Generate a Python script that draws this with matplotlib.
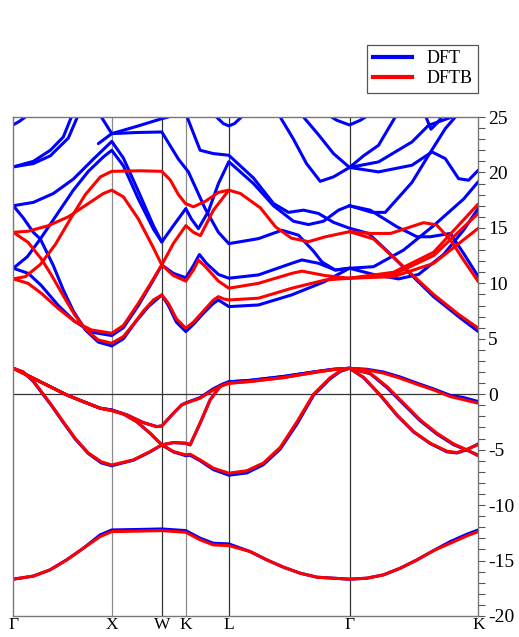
import matplotlib
matplotlib.use("Agg")
import matplotlib.pyplot as plt

# High-symmetry points along the path (path length, arbitrary units)
kpt_labels = ["Γ", "X", "W", "K", "L", "Γ", "K"]
kpt_pos = [0.0, 98.4, 148.4, 172.4, 215.4, 336.0, 464.7]

# ---- DFT bands: lists of (k, E in eV) ----
dft_s = [(0, -16.68), (20, -16.4), (36.7, -15.84), (53.3, -14.94), (70, -13.89), (86.7, -12.69),
         (98.4, -12.24), (123, -12.2), (148.4, -12.15), (172.4, -12.3), (186.7, -12.98),
         (200, -13.44), (215.4, -13.5), (236.7, -14.19), (253.4, -14.94), (270, -15.6),
         (286.7, -16.14), (303.4, -16.5), (336, -16.68), (353.4, -16.59), (370, -16.29),
         (386.7, -15.69), (403.4, -14.94), (420, -14.1), (436.7, -13.29), (453.4, -12.62),
         (464.7, -12.24)]
dft_v1 = [(0, 2.34), (20, 1.44), (36.7, 0.69), (53.3, -0.06), (70, -0.67), (86.7, -1.26),
          (98.4, -1.42), (113.3, -1.85), (130, -2.56), (143.3, -2.92), (148.4, -2.86),
          (160, -1.72), (168.3, -0.96), (172.4, -0.78), (186.7, -0.3), (200, 0.5), (210, 0.95),
          (215.4, 1.12), (236.7, 1.25), (270, 1.6), (303.4, 2.05), (320, 2.25), (336, 2.34),
          (353.4, 2.25), (370, 2.0), (386.7, 1.55), (403.4, 1.0), (420, 0.48), (436.7, -0.1),
          (450, -0.3), (464.7, -0.66)]
dft_v2 = [(0, 2.34), (20, 1.44), (36.7, 0.69), (53.3, -0.06), (70, -0.67), (86.7, -1.26),
          (98.4, -1.42), (110, -1.78), (123.3, -2.47), (136.7, -3.52), (148.4, -4.57),
          (160, -5.2), (172.4, -5.55), (176.7, -5.5), (186.7, -6.0), (200, -6.8), (215.4, -7.3),
          (233.4, -7.1), (250, -6.35), (266.7, -4.95), (283.4, -2.7), (300, -0.1), (316.7, 1.4),
          (326.7, 2.05), (336, 2.34), (356.7, 1.85), (373.4, 0.6), (390, -0.9), (406.7, -2.4),
          (423.4, -3.6), (440, -4.55), (453.4, -5.05), (464.7, -5.5)]
dft_v3 = [(0, 2.34), (10, 2.0), (20, 1.15), (30, -0.05), (38, -1.0), (50, -2.55), (62, -4.05),
          (75, -5.35), (88, -6.2), (98.4, -6.45), (120, -5.95), (136.7, -5.2), (148.4, -4.57),
          (160, -4.36), (172.4, -4.42), (176.7, -4.57), (186.7, -2.61), (196.7, -0.51),
          (206.7, 0.75), (215.4, 1.12), (236.7, 1.25), (270, 1.6), (303.4, 2.05), (320, 2.25),
          (336, 2.34), (350, 1.5), (366.7, -0.1), (383.4, -1.9), (400, -3.4), (416.7, -4.45),
          (433.4, -5.2), (443.4, -5.3), (453.4, -5.0), (464.7, -4.48)]

dft_c = [
    # lowest conduction bands
    [(0, 11.36), (15, 10.9), (28, 9.8), (45, 8.0), (61, 6.6), (78, 5.6), (98.4, 5.29),
     (110, 6.0), (125, 8.0), (140, 10.3), (148.4, 11.66), (160, 10.9), (172.4, 10.5),
     (180, 11.6), (186, 12.6), (193, 11.8), (205, 10.8), (215.4, 10.46), (245, 10.76),
     (278.4, 11.81), (288.4, 12.11), (305, 11.81), (321.7, 11.2), (336, 11.36)],
    [(0, 17.0), (10, 15.9), (20, 14.6), (27, 14.0), (40, 11.6), (50, 9.4), (60, 7.5),
     (72, 5.8), (85, 4.7), (98.4, 4.36), (110, 5.0), (122, 6.5), (135, 7.9), (148.4, 8.95),
     (155, 8.0), (163, 6.5), (172.4, 5.65), (180, 6.3), (190, 7.3), (200, 8.2), (205, 8.5),
     (215.4, 7.9), (245, 8.05), (278, 8.95), (311, 10.15), (336, 11.36)],
    # upper bands
    [(0, 11.36), (14, 12.4), (27, 14.0), (45, 16.4), (60, 18.4), (75, 20.1), (90, 21.4),
     (98.4, 22.0), (110, 20.6), (125, 17.6), (140, 14.9), (148.4, 13.73), (160, 15.2),
     (172.4, 16.74), (178, 15.8), (185, 14.93), (195, 16.5), (205, 19.0), (215.4, 20.97),
     (240, 19.0), (260, 17.0), (280, 15.6), (295, 15.3), (310, 15.6), (325, 16.6), (336, 17.0)],
    [(0, 17.0), (20, 17.3), (40, 18.1), (60, 19.4), (80, 21.2), (98.4, 22.8), (110, 21.3),
     (125, 18.3), (140, 15.2), (148.4, 13.73)],
    [(88, 25.0), (98.4, 23.5), (123, 23.6), (148.4, 23.65), (165, 21.2), (175, 20.05),
     (191.7, 16.74), (205, 14.6), (215.4, 13.58), (245, 14.03), (268.4, 14.79), (285, 14.34),
     (300, 12.9), (308.4, 11.93), (321.7, 11.2), (336, 11.36)],
    [(85, 22.6), (98.4, 23.5), (125, 24.2), (148.4, 24.85), (155, 25.0)],
    [(173.7, 25.0), (186.7, 22.0), (200, 21.7), (215.4, 21.55), (240, 19.5), (260, 17.2),
     (275, 16.4), (290, 16.6), (305, 16.3), (320, 15.5), (336, 14.97), (355, 14.5),
     (375, 12.8), (395, 11.0), (420, 8.8), (445, 7.0), (464.7, 5.65)],
    [(0, 20.5), (20, 21.0), (37, 22.0), (50, 23.2), (58, 25.0)],
    [(0, 20.5), (20, 20.8), (37, 21.5), (55, 23.1), (64, 25.0)],
    [(0, 24.3), (6, 24.6), (12, 25.0)],
    [(203, 25.0), (210, 24.4), (215.4, 24.2), (221, 24.4), (228, 25.0)],
    [(318, 25.0), (323.4, 24.7), (336, 24.28), (346.7, 24.7), (352, 25.0)],
    [(266.7, 25.0), (280, 23.0), (293, 20.8), (306.7, 19.2), (320, 19.6), (336, 20.45),
     (365, 20.05), (398.4, 20.65), (418.4, 21.85), (431.7, 21.25), (445, 19.44), (455, 19.3),
     (464.7, 20.2)],
    [(290, 25.0), (305, 23.4), (320, 21.7), (336, 20.45), (350, 21.5), (365, 22.45),
     (381.7, 25.0)],
    [(336, 20.45), (365, 20.95), (398.4, 22.75), (415, 24.25), (438.4, 25.0)],
    [(412.4, 25.0), (417.4, 23.9), (424, 24.5), (428, 25.0)],
    [(336, 17.0), (358.4, 16.4), (371.7, 16.4), (398.4, 19.1), (415, 21.55), (431.7, 23.95),
     (441.7, 25.0)],
    [(336, 17.0), (356.7, 16.6), (383.4, 15.1), (403.4, 14.2), (416.7, 14.2), (436.7, 14.5),
     (450, 12.7), (464.7, 10.6)],
    [(336, 11.36), (360, 11.5), (390, 13.0), (420, 15.2), (450, 17.6), (464.7, 19.17)],
    [(336, 11.36), (360, 10.8), (385, 10.4), (405, 10.8), (430, 12.6), (450, 14.8),
     (464.7, 16.77)],
]

# ---- DFTB bands ----
dftb_s = [(k, e - (0.15 if -13.8 < e else 0.0)) for k, e in dft_s]
dftb_v1 = [(0, 2.34), (20, 1.44), (36.7, 0.69), (53.3, -0.06), (70, -0.67), (86.7, -1.26),
           (98.4, -1.48), (113.3, -1.87), (130, -2.56), (143.3, -2.92), (148.4, -2.86),
           (160, -1.72), (168.3, -0.96), (172.4, -0.81), (186.7, -0.36), (200, 0.39), (210, 0.84),
           (215.4, 0.99), (236.7, 1.15), (270, 1.5), (303.4, 2.0), (320, 2.22), (336, 2.34),
           (353.4, 2.2), (370, 1.9), (386.7, 1.44), (403.4, 0.9), (420, 0.39), (436.7, -0.21),
           (464.7, -0.81)]
dftb_v2 = [(0, 2.34), (20, 1.44), (36.7, 0.69), (53.3, -0.06), (70, -0.67), (86.7, -1.26),
           (98.4, -1.48), (110, -1.78), (123.3, -2.47), (136.7, -3.52), (148.4, -4.57),
           (160, -5.17), (172.4, -5.47), (176.7, -5.41), (186.7, -5.92), (200, -6.67),
           (215.4, -7.12), (233.4, -6.9), (250, -6.2), (266.7, -4.8), (283.4, -2.5), (300, 0.0),
           (316.7, 1.5), (326.7, 2.1), (336, 2.34), (356.7, 1.89), (373.4, 0.69), (390, -0.81),
           (406.7, -2.32), (423.4, -3.52), (440, -4.48), (453.4, -5.02), (464.7, -5.56)]
dftb_v3 = [(0, 2.34), (10, 2.0), (20, 1.2), (30, 0.0), (38, -0.96), (50, -2.5), (62, -4.0),
           (75, -5.3), (88, -6.1), (98.4, -6.38), (120, -5.92), (136.7, -5.17), (148.4, -4.57),
           (160, -4.36), (172.4, -4.42), (176.7, -4.57), (186.7, -2.61), (196.7, -0.51),
           (206.7, 0.69), (215.4, 0.99), (236.7, 1.15), (270, 1.5), (303.4, 2.0), (320, 2.22),
           (336, 2.34), (350, 1.53), (366.7, -0.06), (383.4, -1.87), (400, -3.37),
           (416.7, -4.42), (433.4, -5.14), (443.4, -5.26), (453.4, -4.96), (464.7, -4.54)]

dftb_c = [
    [(0, 10.4), (12, 10.6), (27, 11.7), (42, 13.5), (57, 15.8), (72, 18.0), (87, 19.6),
     (98.4, 20.1), (127, 20.15), (148.4, 20.1), (157, 19.3), (165, 18.0), (172, 17.2),
     (180, 16.9), (192, 17.4), (205, 18.2), (215.4, 18.4), (227, 18.1), (247, 16.8),
     (262, 15.1), (278, 14.07), (295, 13.76), (312, 14.2), (336, 14.66), (357, 14.5),
     (377, 14.5), (393, 14.97), (410, 15.47), (423, 15.27), (437, 13.9), (450, 12.1),
     (464.7, 10.15)],
    [(0, 14.6), (15, 14.7), (35, 15.2), (55, 16.0), (75, 17.2), (90, 18.1), (98.4, 18.4),
     (110, 17.8), (125, 15.8), (140, 13.2), (148.4, 11.66), (160, 10.7), (172.4, 10.2),
     (180, 11.2), (185, 12.1), (192, 11.5), (205, 10.2), (215.4, 9.56), (245, 10.0),
     (278.4, 10.9), (288.4, 11.1), (311.7, 10.7), (336, 10.46), (380, 11.0), (420, 12.8),
     (464.7, 17.16)],
    [(0, 10.4), (14.7, 10.0), (28, 9.1), (44.7, 7.75), (61.4, 6.55), (78, 5.8), (98.4, 5.5),
     (110, 6.2), (125, 8.2), (140, 10.4), (148.4, 11.66), (160, 13.6), (172.4, 15.2),
     (180, 14.6), (187, 14.3), (200, 16.6), (215.4, 18.4)],
    [(0, 14.6), (14.7, 13.7), (28, 12.2), (38, 10.76), (51.4, 8.66), (61.4, 7.15),
     (71.4, 5.95), (84.7, 4.9), (98.4, 4.6), (110, 5.2), (120, 6.3), (130, 7.5), (140, 8.5),
     (148.4, 8.95), (155, 8.2), (163, 6.8), (172.4, 5.95), (180, 6.5), (190, 7.5),
     (200, 8.5), (205, 8.8), (210, 8.6), (215.4, 8.5), (245, 8.66), (278.4, 9.56),
     (311.7, 10.3), (336, 10.46), (380, 10.8), (420, 12.5), (464.7, 16.32)],
    [(336, 10.46), (380, 10.6), (420, 11.8), (464.7, 14.97)],
    [(336, 14.66), (360, 14.0), (390, 11.5), (420, 9.0), (445, 7.2), (464.7, 5.95)],
]

BLUE = "#0000ff"
RED = "#ff0000"


def draw(ax, band, color):
    ks = [p[0] for p in band]
    es = [p[1] for p in band]
    ax.plot(ks, es, color=color, lw=2.2, solid_capstyle="round", solid_joinstyle="round")


fig = plt.figure(figsize=(5.19, 6.37), dpi=100)
ax = fig.add_axes([13.3 / 519, 1 - 616 / 637, (478.3 - 13.3) / 519, (616 - 117) / 637])

ax.set_xlim(kpt_pos[0], kpt_pos[-1])
ax.set_ylim(-20, 25)

for k, lab in zip(kpt_pos, kpt_labels):
    if 0 < k < kpt_pos[-1]:
        shade = "#8a8a8a" if lab in ("X", "K") else "#333333"
        ax.axvline(k, color=shade, lw=0.9, zorder=1)
ax.axhline(0, color="#333333", lw=0.9, zorder=1)

for b in [dft_s, dft_v1, dft_v2, dft_v3] + dft_c:
    draw(ax, b, BLUE)
for b in [dftb_s, dftb_v1, dftb_v2, dftb_v3] + dftb_c:
    draw(ax, b, RED)

serif = ["Liberation Serif", "DejaVu Serif"]
ax.set_xticks(kpt_pos)
ax.set_xticklabels(kpt_labels, fontsize=12.5, family=serif)
ax.tick_params(axis="x", length=0, pad=1)

ax.yaxis.tick_right()
ax.set_yticks(range(-20, 26, 5))
ax.set_yticks(range(-20, 26, 1), minor=True)
ax.set_yticklabels([str(v) for v in range(-20, 26, 5)], fontsize=14, family=serif)
ax.tick_params(axis="y", which="both", direction="out", length=5, width=0.8,
               color="#555555", pad=2)

for side in ("left", "right", "top", "bottom"):
    ax.spines[side].set_color("#777777")
    ax.spines[side].set_linewidth(1.0)

handles = [plt.Line2D([], [], color=BLUE, lw=3), plt.Line2D([], [], color=RED, lw=3)]
leg = ax.legend(handles, ["DFT", "DFTB"], loc="upper right",
                bbox_to_anchor=(478.3 / 519, 1 - 45 / 637), bbox_transform=fig.transFigure,
                borderaxespad=0, fancybox=False, framealpha=1, edgecolor="#555555",
                prop={"family": serif, "size": 13}, handlelength=2.2, labelspacing=0.15,
                borderpad=0.3)
leg.get_frame().set_linewidth(0.9)

fig.savefig("out.png", dpi=100)
